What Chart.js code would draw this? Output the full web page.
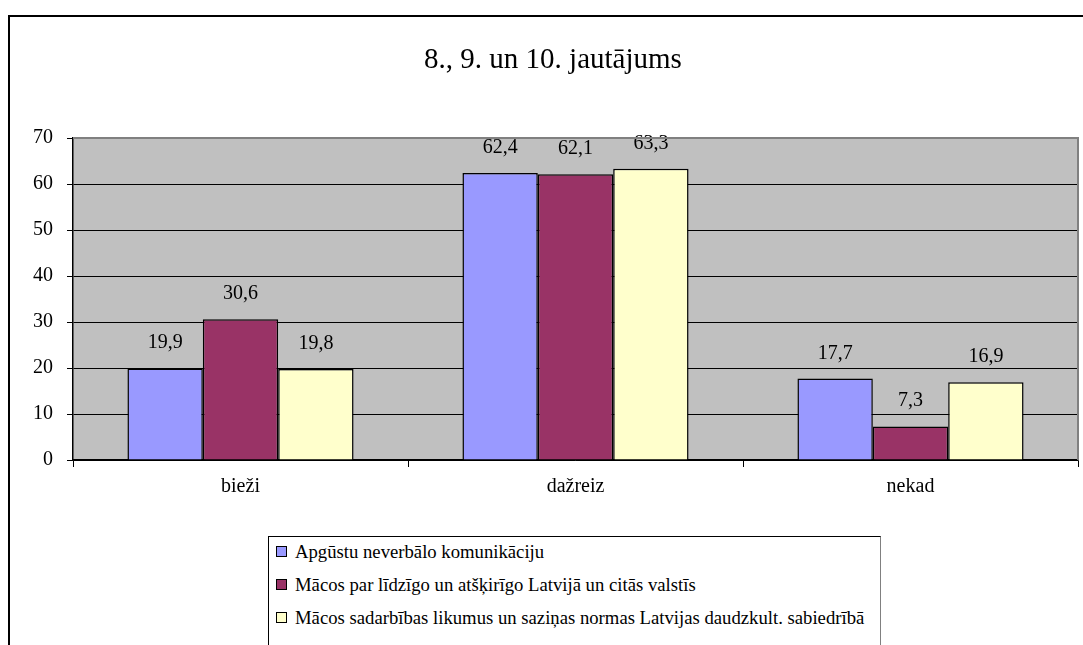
<!DOCTYPE html>
<html>
<head>
<meta charset="utf-8">
<script src="https://cdn.jsdelivr.net/npm/chart.js@4/dist/chart.umd.min.js"></script>
<style>
  html, body { margin: 0; padding: 0; background: #fff; overflow: hidden; }
  #wrap { position: relative; width: 1083px; height: 645px; }
  #frame { position: absolute; left: 8px; top: 15px; width: 1200px; height: 800px; border: 2px solid #000; box-sizing: border-box; }
  #c { position: absolute; left: 0; top: 0; }
  #legend { position: absolute; left: 268px; top: 536px; width: 613px; height: 140px; border: 1px solid #000; border-right-color: #808080; box-sizing: border-box; background: #fff;
    font-family: "Liberation Serif", "Times New Roman", serif; font-size: 18.7px; color: #000; }
  .item { height: 33px; display: flex; align-items: center; }
  .item:first-child { margin-top: -2px; }
  .sw { width: 9px; height: 9px; border: 1.5px solid #000; margin-left: 7px; margin-right: 8px; }
</style>
</head>
<body>
<div id="wrap">
  <div id="frame"></div>
  <canvas id="c" width="1083" height="645"></canvas>
  <div id="legend"></div>
</div>
<script>
const titleText = '8., 9. un 10. jautājums'
const categories = ['bieži', 'dažreiz', 'nekad']
const seriesNames = [
  'Apgūstu neverbālo komunikāciju',
  'Mācos par līdzīgo un atšķirīgo Latvijā un citās valstīs',
  'Mācos sadarbības likumus un saziņas normas Latvijas daudzkult. sabiedrībā'
]
const seriesValues = [
  [19.9, 62.4, 17.7],
  [30.6, 62.1, 7.3],
  [19.8, 63.3, 16.9]
]
const seriesColors = ['#9999FF', '#993366', '#FFFFCC']
const yTicks = [0, 10, 20, 30, 40, 50, 60, 70]

const serif = '"Liberation Serif", "Times New Roman", serif'

const datasets = seriesNames.map((name, i) => ({
  label: name,
  data: seriesValues[i],
  backgroundColor: seriesColors[i],
  borderColor: '#000',
  borderWidth: 1.5,
  categoryPercentage: 0.675,
  barPercentage: 1
}))

// gray plot area, outer border of plot, title and value labels
const decor = {
  id: 'decor',
  beforeDraw(chart) {
    const { ctx, chartArea: a } = chart
    ctx.save()
    ctx.fillStyle = '#C0C0C0'
    ctx.fillRect(a.left, a.top, a.right - a.left, a.bottom - a.top)
    ctx.restore()
  },
  afterDraw(chart) {
    const { ctx, chartArea: a } = chart
    ctx.save()
    ctx.strokeStyle = '#808080'
    ctx.lineWidth = 2
    ctx.beginPath()
    ctx.moveTo(a.left, a.top)
    ctx.lineTo(a.right, a.top)
    ctx.lineTo(a.right, a.bottom)
    ctx.stroke()
    ctx.fillStyle = '#000'
    ctx.font = '29px ' + serif
    ctx.textAlign = 'center'
    ctx.textBaseline = 'alphabetic'
    ctx.fillText(titleText, 553, 68)
    ctx.restore()
  },
  afterDatasetsDraw(chart) {
    const { ctx } = chart
    ctx.save()
    ctx.fillStyle = '#000'
    ctx.font = '20px ' + serif
    ctx.textAlign = 'center'
    ctx.textBaseline = 'alphabetic'
    chart.data.datasets.forEach((ds, i) => {
      chart.getDatasetMeta(i).data.forEach((bar, j) => {
        ctx.fillText(ds.data[j].toFixed(1).replace('.', ','), bar.x, bar.y - 20)
      })
    })
    ctx.restore()
  }
}

new Chart(document.getElementById('c'), {
  type: 'bar',
  data: { labels: categories, datasets: datasets },
  options: {
    responsive: false,
    animation: false,
    layout: { padding: { left: 0, right: 5, top: 138, bottom: 0 } },
    plugins: { legend: { display: false }, tooltip: { enabled: false } },
    scales: {
      x: {
        afterFit: (s) => { s.height = 185 },
        grid: { offset: true, drawOnChartArea: false, drawTicks: true, tickLength: 7, color: '#000' },
        border: { color: '#000', width: 1.5 },
        ticks: { color: '#000', font: { family: serif, size: 20 }, padding: 8 }
      },
      y: {
        min: 0,
        max: 70,
        afterFit: (s) => { s.width = 73 },
        afterBuildTicks: (s) => { s.ticks = yTicks.map(v => ({ value: v })) },
        grid: { color: '#000', lineWidth: 1, tickLength: 6 },
        border: { color: '#000', width: 1.5 },
        ticks: { color: '#000', font: { family: serif, size: 20 }, padding: 14 }
      }
    }
  },
  plugins: [decor]
})

const legendEl = document.getElementById('legend')
seriesNames.forEach((name, i) => {
  const row = document.createElement('div')
  row.className = 'item'
  const sw = document.createElement('span')
  sw.className = 'sw'
  sw.style.background = seriesColors[i]
  const txt = document.createElement('span')
  txt.textContent = name
  row.appendChild(sw)
  row.appendChild(txt)
  legendEl.appendChild(row)
})
</script>
</body>
</html>
